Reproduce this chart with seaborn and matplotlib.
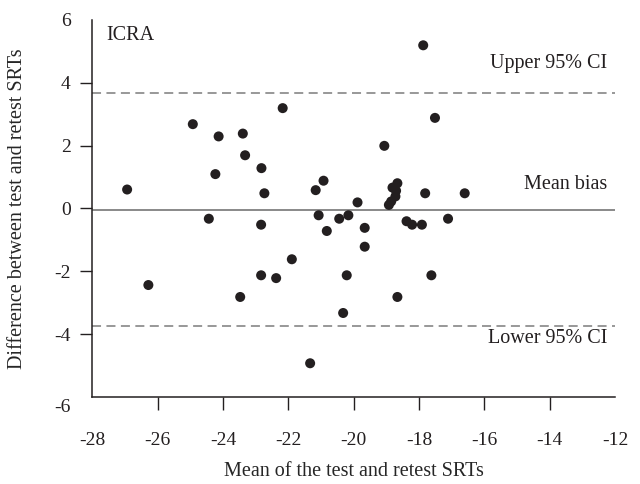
import matplotlib
matplotlib.use("Agg")
import matplotlib.pyplot as plt
import matplotlib.transforms as mtransforms
import seaborn as sns
import pandas as pd

# Bland-Altman data (ICRA)
mean_srt = [-26.93, -26.28, -24.92, -24.13, -23.39, -23.32, -24.23, -22.82, -22.73, -22.17,
            -24.43, -22.83, -22.83, -22.37, -23.47, -17.87, -17.51, -19.06, -20.92, -21.16,
            -18.66, -18.81, -18.70, -18.72, -18.85, -18.92, -17.81, -16.60, -19.88, -21.07,
            -20.44, -20.16, -20.82, -19.66, -19.66, -18.38, -18.21, -17.91, -17.11, -21.89,
            -20.21, -17.62, -18.66, -20.32, -21.33]
diff_srt = [0.60, -2.44, 2.68, 2.29, 2.38, 1.69, 1.09, 1.28, 0.48, 3.19,
            -0.33, -0.52, -2.13, -2.22, -2.82, 5.19, 2.88, 1.99, 0.88, 0.58,
            0.80, 0.66, 0.56, 0.38, 0.22, 0.11, 0.48, 0.48, 0.19, -0.22,
            -0.33, -0.22, -0.72, -0.62, -1.22, -0.41, -0.52, -0.52, -0.33, -1.62,
            -2.13, -2.13, -2.82, -3.33, -4.93]

mean_bias = -0.04
upper_ci = 3.68
lower_ci = -3.76

x_ticks = [-28, -26, -24, -22, -20, -18, -16, -14, -12]
y_ticks = [-6, -4, -2, 0, 2, 4, 6]

df = pd.DataFrame({"mean": mean_srt, "diff": diff_srt})

sns.set_style("ticks")
plt.rcParams["font.family"] = ["Liberation Serif", "DejaVu Serif"]
plt.rcParams["text.color"] = "#231f20"
plt.rcParams["xtick.color"] = "#231f20"
plt.rcParams["ytick.color"] = "#231f20"

ink = "#231f20"
fig = plt.figure(figsize=(6.4, 4.84), dpi=100)
ax = fig.add_axes([0.144, 0.18, 0.817, 0.779])

sns.scatterplot(data=df, x="mean", y="diff", color=ink, s=52, edgecolor="none", ax=ax, zorder=3)

ax.axhline(mean_bias, color="#808080", lw=1.3, zorder=2)
for lim in [upper_ci, lower_ci]:
    ax.axhline(lim, color="#909090", lw=1.3, linestyle=(0, (5, 3)), zorder=2)

ax.text(-27.56, 5.5, "ICRA", fontsize=14.5, ha="left", va="center")
ax.text(-12.24, 4.6, "Upper 95% CI", fontsize=14.5, ha="right", va="center")
ax.text(-12.24, 0.75, "Mean bias", fontsize=14.5, ha="right", va="center")
ax.text(-12.24, -4.15, "Lower 95% CI", fontsize=14.5, ha="right", va="center")

ax.set_xlim(-28, -12)
ax.set_ylim(-6, 6)
ax.set_xticks(x_ticks)
ax.set_yticks(y_ticks)
ax.set_xticklabels([str(t) for t in x_ticks])
ax.set_yticklabels([str(t) for t in y_ticks])
ax.tick_params(axis="x", direction="out", length=9, width=1.0, pad=16, labelsize=14)
ax.tick_params(axis="y", direction="out", length=8.5, width=1.0, pad=7, labelsize=14)
# end ticks carry no marks in the reference
for tl in [ax.xaxis.get_major_ticks()[0], ax.xaxis.get_major_ticks()[-1],
           ax.yaxis.get_major_ticks()[0], ax.yaxis.get_major_ticks()[-1]]:
    tl.tick1line.set_visible(False)
# the -6 label sits a little below the corner
lab = ax.yaxis.get_major_ticks()[0].label1
lab.set_transform(lab.get_transform() + mtransforms.ScaledTranslation(0, -6 / 72, fig.dpi_scale_trans))

for side in ["top", "right"]:
    ax.spines[side].set_visible(False)
ax.spines["left"].set_color(ink)
ax.spines["bottom"].set_color(ink)
ax.spines["left"].set_linewidth(1.1)
ax.spines["bottom"].set_linewidth(1.1)

ax.set_xlabel("Mean of the test and retest SRTs", fontsize=14.5)
ax.set_ylabel("Difference between test and retest SRTs", fontsize=14.5)
ax.xaxis.set_label_coords(0.5, -0.172)
ax.yaxis.set_label_coords(-0.124, 0.5)

fig.savefig("out.png", dpi=100)
